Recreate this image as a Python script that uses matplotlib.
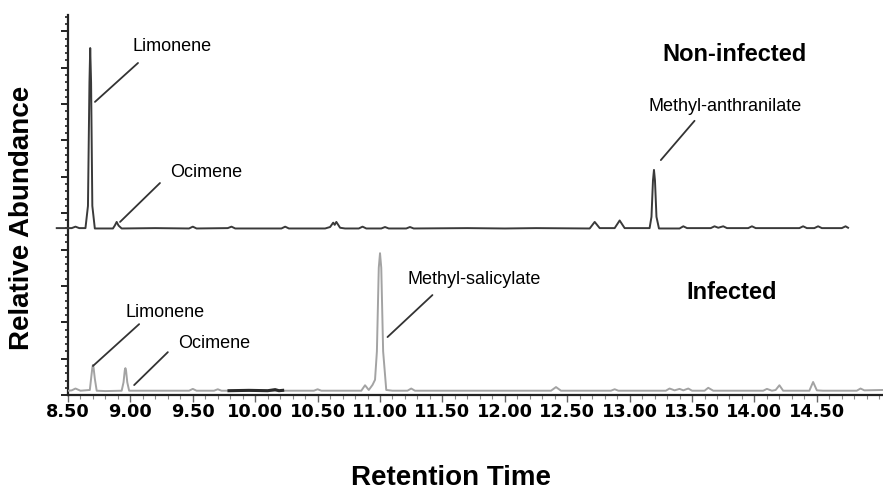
import matplotlib
matplotlib.use('Agg')
import matplotlib.pyplot as plt
from matplotlib.ticker import MultipleLocator, FixedLocator, FormatStrFormatter

# chromatogram traces: retention time (min), relative abundance
non_infected_rt = [8.41, 8.53, 8.56, 8.59, 8.64, 8.66, 8.672, 8.678, 8.685, 8.695, 8.715,
                   8.86, 8.875, 8.89, 8.905, 8.93, 9.20, 9.47, 9.50, 9.53, 9.78, 9.81, 9.84,
                   10.21, 10.24, 10.27, 10.56, 10.60, 10.625, 10.637, 10.65, 10.68, 10.72,
                   10.83, 10.86, 10.89, 11.01, 11.04, 11.07, 11.21, 11.24, 11.27, 11.70, 12.00,
                   12.25, 12.68, 12.72, 12.76, 12.88, 12.92, 12.96, 13.16, 13.175, 13.187, 13.195,
                   13.203, 13.215, 13.235, 13.40, 13.43, 13.46, 13.65, 13.68, 13.71, 13.75, 13.78,
                   13.95, 13.98, 14.01, 14.36, 14.39, 14.42, 14.48, 14.51, 14.54, 14.70, 14.73,
                   14.75]
non_infected_ab = [4.59, 4.59, 4.63, 4.59, 4.59, 5.2, 8.6, 9.54, 8.6, 5.2, 4.58,
                   4.58, 4.66, 4.76, 4.66, 4.58, 4.59, 4.58, 4.63, 4.58, 4.59, 4.63, 4.58,
                   4.58, 4.63, 4.58, 4.58, 4.62, 4.74, 4.68, 4.76, 4.60, 4.58,
                   4.58, 4.63, 4.58, 4.58, 4.62, 4.58, 4.58, 4.62, 4.58, 4.59, 4.58,
                   4.59, 4.58, 4.76, 4.59, 4.59, 4.80, 4.59, 4.59, 4.9, 5.9, 6.19,
                   5.9, 4.9, 4.58, 4.58, 4.64, 4.59, 4.59, 4.64, 4.60, 4.64, 4.59,
                   4.59, 4.64, 4.59, 4.59, 4.64, 4.59, 4.59, 4.64, 4.59, 4.59, 4.64,
                   4.60]

infected_rt = [8.50, 8.53, 8.56, 8.60, 8.675, 8.685, 8.695, 8.70, 8.705, 8.715, 8.73, 8.80,
               8.93, 8.945, 8.955, 8.96, 8.965, 8.975, 8.99, 9.10, 9.47, 9.50, 9.53, 9.67,
               9.70, 9.73, 10.00, 10.47, 10.50, 10.53, 10.85, 10.88, 10.91, 10.94, 10.96,
               10.975, 10.99, 11.00, 11.01, 11.025, 11.05, 11.10, 11.22, 11.25, 11.28, 11.70,
               12.10, 12.37, 12.41, 12.45, 12.55, 12.85, 12.88, 12.91, 13.29, 13.32, 13.36,
               13.40, 13.43, 13.47, 13.50, 13.60, 13.63, 13.67, 13.95, 14.07, 14.10, 14.14,
               14.17, 14.20, 14.23, 14.44, 14.47, 14.50, 14.55, 14.70, 14.82, 14.85, 14.88,
               15.03]
infected_ab = [0.12, 0.13, 0.18, 0.12, 0.14, 0.45, 0.75, 0.83, 0.75, 0.45, 0.12, 0.11,
               0.12, 0.35, 0.68, 0.74, 0.68, 0.35, 0.12, 0.12, 0.12, 0.17, 0.12, 0.12,
               0.16, 0.12, 0.12, 0.12, 0.16, 0.12, 0.12, 0.27, 0.14, 0.28, 0.42,
               1.2, 3.5, 3.90, 3.5, 1.2, 0.14, 0.12, 0.12, 0.18, 0.12, 0.12,
               0.12, 0.12, 0.22, 0.12, 0.12, 0.12, 0.16, 0.12, 0.12, 0.18, 0.13,
               0.17, 0.13, 0.18, 0.12, 0.12, 0.20, 0.12, 0.12, 0.12, 0.17, 0.12,
               0.14, 0.27, 0.12, 0.12, 0.36, 0.13, 0.12, 0.12, 0.12, 0.18, 0.13,
               0.14]

# darker stretch of the infected baseline
dark_rt = [9.79, 9.95, 10.10, 10.16, 10.19, 10.22]
dark_ab = [0.12, 0.13, 0.12, 0.15, 0.12, 0.13]

# labelled retention times on the x axis
x_tick_values = [8.5, 9.0, 9.5, 10.0, 10.5, 11.0, 11.5, 12.0, 12.5, 13.0, 13.5, 14.0, 14.5]

fig = plt.figure(figsize=(8.83, 4.92), dpi=100)
ax = fig.add_axes([0.077, 0.197, 0.923, 0.7726])

ax.plot(non_infected_rt, non_infected_ab, color='#3a3a3a', lw=1.4, clip_on=False, zorder=3)
ax.plot(infected_rt, infected_ab, color='#a3a3a3', lw=1.4, zorder=3)
ax.plot(dark_rt, dark_ab, color='#2a2a2a', lw=2.2, zorder=4)

ax.set_xlim(8.5, 15.03)
ax.set_ylim(0, 10.45)

for side in ['top', 'right']:
    ax.spines[side].set_visible(False)
for side in ['left', 'bottom']:
    ax.spines[side].set_linewidth(1.6)
    ax.spines[side].set_color('#222222')

ax.xaxis.set_major_locator(FixedLocator(x_tick_values))
ax.xaxis.set_minor_locator(MultipleLocator(0.1))
ax.xaxis.set_major_formatter(FormatStrFormatter('%.2f'))
ax.yaxis.set_major_locator(MultipleLocator(1.0))
ax.yaxis.set_minor_locator(MultipleLocator(0.2))
ax.set_yticklabels([])
ax.tick_params(axis='x', which='major', length=5, width=1.0, color='#666666', pad=1,
               labelsize=12.8)
ax.tick_params(axis='x', which='minor', length=3, width=0.8, color='#888888')
ax.tick_params(axis='y', which='major', length=5, width=1.4, color='#222222')
ax.tick_params(axis='y', which='minor', length=2.5, width=1.2, color='#222222')
for lab in ax.get_xticklabels():
    lab.set_fontweight('bold')
    lab.set_family('DejaVu Sans')

lab_font = dict(family='Liberation Sans', fontsize=13)
line_kw = dict(arrowstyle='-', color='#333333', lw=1.3, shrinkA=0, shrinkB=0)

def label_peak(text, tip, tail, pos):
    ax.annotate('', xy=tip, xytext=tail, arrowprops=line_kw)
    ax.text(pos[0], pos[1], text, ha='left', va='center', **lab_font)

label_peak('Limonene', (8.716, 8.06), (9.061, 9.13), (9.02, 9.57))
label_peak('Ocimene', (8.917, 4.76), (9.237, 5.83), (9.317, 6.13))
label_peak('Methyl-anthranilate', (13.25, 6.46), (13.52, 7.54), (13.15, 7.92))
label_peak('Limonene', (8.70, 0.80), (9.07, 1.95), (8.957, 2.28))
label_peak('Ocimene', (9.03, 0.275), (9.30, 1.18), (9.38, 1.43))
label_peak('Methyl-salicylate', (11.06, 1.595), (11.42, 2.75), (11.22, 3.19))

ax.text(13.84, 9.35, 'Non-infected', ha='center', va='center', family='Liberation Sans',
        fontsize=17, fontweight='bold')
ax.text(13.82, 2.83, 'Infected', ha='center', va='center', family='Liberation Sans',
        fontsize=17, fontweight='bold')

fig.text(0.025, 0.557, 'Relative Abundance', rotation=90, ha='center', va='center',
         family='Liberation Sans', fontsize=20, fontweight='bold')
fig.text(0.511, 0.028, 'Retention Time', ha='center', va='center',
         family='Liberation Sans', fontsize=20, fontweight='bold')

fig.savefig('out.png', dpi=100)
